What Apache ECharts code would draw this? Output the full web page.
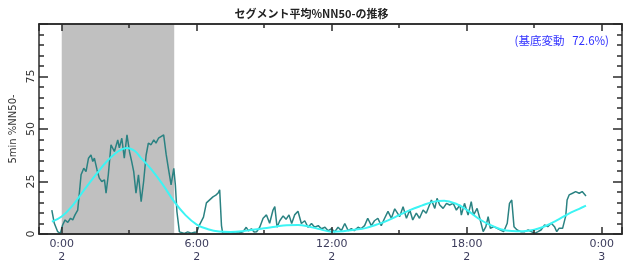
<!DOCTYPE html>
<html><head><meta charset="utf-8">
<script src="https://cdn.jsdelivr.net/npm/echarts@6/dist/echarts.min.js"></script>
<style>html,body{margin:0;padding:0;background:#fff}#c{width:623px;height:264px}</style>
</head><body><div id="c"></div>
<script>
// ---- data (hours from 0:00 on day 2) ----
const tealHours = [-0.44,-0.33,-0.18,-0.06,0.04,0.15,0.27,0.39,0.49,0.59,0.71,0.79,0.86,0.98,1.08,1.19,1.30,1.38,1.45,1.57,1.67,1.78,1.90,1.97,2.07,2.19,2.34,2.49,2.56,2.67,2.78,2.90,3.01,3.11,3.20,3.30,3.41,3.53,3.64,3.75,3.85,3.97,4.09,4.19,4.30,4.41,4.53,4.64,4.74,4.86,4.98,5.05,5.12,5.23,5.30,5.45,5.6,5.75,5.9,6.0,6.13,6.3,6.43,6.55,6.72,6.85,6.95,7.02,7.1,7.15,7.35,7.5,7.7,7.9,8.06,8.2,8.3,8.43,8.55,8.66,8.8,8.95,9.1,9.24,9.39,9.47,9.57,9.69,9.84,9.97,10.1,10.22,10.35,10.5,10.65,10.8,10.95,11.1,11.24,11.4,11.54,11.7,11.84,11.99,12.13,12.28,12.43,12.58,12.73,12.87,13.0,13.17,13.3,13.46,13.6,13.76,13.9,14.05,14.2,14.35,14.5,14.65,14.8,15.02,15.17,15.32,15.47,15.6,15.76,15.9,16.06,16.2,16.43,16.58,16.68,16.8,16.95,17.1,17.24,17.4,17.54,17.7,17.76,17.9,18.06,18.2,18.3,18.46,18.58,18.73,18.85,18.95,19.05,19.2,19.35,19.5,19.64,19.8,19.9,20.0,20.1,20.24,20.4,20.58,20.73,20.87,21.02,21.17,21.3,21.46,21.6,21.76,21.9,22.0,22.1,22.26,22.4,22.46,22.55,22.7,22.84,23.0,23.13,23.2,23.3];
const tealValues = [11.4,5.1,1.1,0.3,4.3,6.7,5.5,7.5,6.7,9.1,11.4,20.2,28.2,31.3,29.7,36.1,37.7,34.5,36.1,30.5,26.6,25,25.8,19.4,28.2,42.5,39.3,44.8,41,45.6,36.1,47.2,39.3,34.5,29.7,19.4,28.2,15.4,25,37.5,43.3,42.5,44.8,43.3,45.6,46.4,47.2,38,31.3,23.4,31.3,23.4,10.6,1,0.5,0.3,1,0.4,0.8,1,4.5,8,14.8,16,17.7,18.5,19.5,21,4,0.5,0.3,0.8,0.4,0.6,1.1,3.2,1.5,2.5,1,1.1,3.2,7.5,9.1,5.1,11.4,13,3.2,6.3,8.6,7,9.1,5,9.1,10.8,5,6.3,3.2,5,3.2,4,2.5,3.2,1.6,2.5,1,3.2,1.6,5,1.6,2.5,1.6,3.2,2.5,4,7.5,4,6.3,7.5,4,7.5,10.8,7.5,12,8.3,13,7.5,11.4,6.7,9.9,7.5,11.4,9.9,16.2,12.2,17,13.8,12.2,14.6,13.8,14.6,11.4,13.8,9,14.6,9,15.4,9,12.2,7.5,1.1,3.5,8.3,2.7,3.5,2.7,1.9,1.1,5.1,14.6,16.2,3.5,1.9,1.1,1.1,1.9,1.1,0.3,1.1,1.9,4.3,3.5,5.1,3.5,1.1,2.7,2.7,8.6,16.2,18.6,19.4,20.2,19.4,20.2,20.2,18.1];
const fitHours = [-0.44,0,0.5,1.0,1.5,2.0,2.5,2.9,3.25,3.5,4.0,4.5,5.0,5.5,6.0,6.5,7.0,7.5,8.0,8.5,9.0,9.5,10.0,10.5,11.0,11.5,12.0,12.5,13.0,13.5,14.0,14.5,15.0,15.5,16.0,16.5,17.0,17.5,18.0,18.5,19.0,19.5,20.0,20.5,21.0,21.5,22.0,22.5,23.0,23.3];
const fitValues = [5.9,8.3,13.8,21,28,34.5,39.3,41,39.5,36.5,30.5,23.4,15.4,9,4.5,2.3,1.2,1.0,1.3,2,2.7,3.5,4.2,4.3,3.5,2.2,1.1,1.3,2,2.8,4.5,6.5,9,11.5,13.5,15.3,15.8,14.5,11.5,7.5,4.5,2.3,1.4,1.3,2,3.8,6.5,9.5,12,13.5];
const shadeRange = [0, 5.0];
const xMajorLabels = ['0:00\n2', '6:00\n2', '12:00\n2', '18:00\n2', '0:00\n3'];
const yTickLabels = ['0', '25', '50', '75'];
const titleText = 'セグメント平均%NN50-の推移';
const yName = '5min %NN50-';
const noteText = '(基底変動   72.6%)';

const X_MIN = -1.01, X_MAX = 24.9;
const pairs = (xs, ys) => xs.map((x, i) => [x, ys[i]]);
const frame = { show: true, onZero: false, lineStyle: { color: '#2a2a2a', width: 1.5 } };
const lblFont = 'DejaVu Sans';

function hourAxis(pos) {
  return {
    type: 'value', position: pos, min: X_MIN, max: X_MAX, splitNumber: 8, minInterval: 3, maxInterval: 3,
    axisLine: frame, axisTick: { show: true, inside: true, length: 4, lineStyle: { color: '#2a2a2a', width: 1.5 } },
    axisLabel: { show: false }, splitLine: { show: false }, z: 5
  };
}
function quarterAxis(pos, labels) {
  return {
    type: 'value', position: pos, min: X_MIN / 6, max: X_MAX / 6, splitNumber: 4, minInterval: 1, maxInterval: 1,
    axisLine: frame, axisTick: { show: true, inside: true, length: 7, lineStyle: { color: '#2a2a2a', width: 1.5 } },
    axisLabel: labels ? {
      show: true, margin: 4, color: '#3c3c5c', fontFamily: lblFont, fontSize: 11, lineHeight: 13,
      formatter: v => { const k = Math.round(v); return Math.abs(v - k) < 1e-6 ? (xMajorLabels[k] || '') : ''; }
    } : { show: false },
    splitLine: { show: false }, z: 5
  };
}
function yAx(pos, labels) {
  return {
    type: 'value', position: pos, min: 0, max: 100, interval: 25,
    axisLine: frame,
    axisTick: { show: true, inside: true, length: 9, lineStyle: { color: '#2a2a2a', width: 1.5 } },
    minorTick: { show: true, splitNumber: 5, length: 5, lineStyle: { color: '#2a2a2a', width: 1.5 } },
    axisLabel: labels ? {
      show: true, rotate: 90, margin: 2, color: '#333', fontFamily: lblFont, fontSize: 11,
      formatter: v => yTickLabels[Math.round(v / 25)] || ''
    } : { show: false },
    name: labels ? yName : '', nameLocation: 'middle', nameGap: 15, nameRotate: 90,
    nameTextStyle: { color: '#333', fontFamily: lblFont, fontSize: 10 },
    splitLine: { show: false }, z: 5
  };
}

const chart = echarts.init(document.getElementById('c'), null, { renderer: 'canvas' });
chart.setOption({
  animation: false,
  backgroundColor: '#fff',
  title: { text: titleText, left: 'center', top: 3, textStyle: { fontFamily: 'Noto Sans CJK JP', fontSize: 11, fontWeight: 'bold', color: '#222' } },
  grid: { left: 39, right: 1, top: 24, bottom: 30, outerBoundsMode: 'none' },
  xAxis: [hourAxis('bottom'), quarterAxis('bottom', true), hourAxis('top'), quarterAxis('top', false)],
  yAxis: [yAx('left', true), yAx('right', false)],
  graphic: [{ type: 'text', right: 14, top: 35, style: { text: noteText, fill: '#3333ff', font: '11.5px "Noto Sans CJK JP"' } }],
  series: [
    {
      type: 'line', xAxisIndex: 0, yAxisIndex: 0, data: pairs(tealHours, tealValues), showSymbol: false,
      lineStyle: { color: '#2a8282', width: 1.5 }, itemStyle: { color: '#2a8282' },
      markArea: { silent: true, itemStyle: { color: '#c0c0c0', opacity: 1 }, data: [[{ xAxis: shadeRange[0] }, { xAxis: shadeRange[1] }]] },
      z: 2
    },
    {
      type: 'line', xAxisIndex: 0, yAxisIndex: 0, data: pairs(fitHours, fitValues), showSymbol: false, smooth: 0.4,
      lineStyle: { color: '#3cf4f4', width: 2 }, itemStyle: { color: '#3cf4f4' }, z: 3
    }
  ]
});
</script></body></html>
